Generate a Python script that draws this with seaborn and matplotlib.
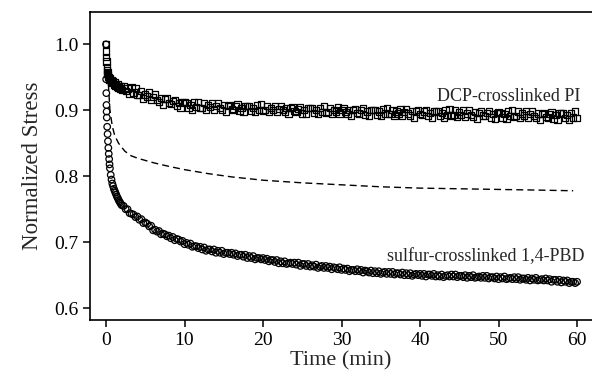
import matplotlib
matplotlib.use('Agg')
import matplotlib.pyplot as plt
import seaborn as sns

# ==================== data ====================
time_min = [
    0.0, 0.02, 0.04, 0.06, 0.08, 0.1, 0.15, 0.2, 0.25, 0.3,
    0.35, 0.4, 0.45, 0.5, 0.6, 0.7, 0.8, 0.9, 1.0, 1.1,
    1.2, 1.3, 1.4, 1.5, 1.6, 1.7, 1.8, 1.9, 2.0,
    2.25, 2.5, 2.75, 3.0, 3.25, 3.5, 3.75, 4.0,
    4.25, 4.5, 4.75, 5.0, 5.25, 5.5, 5.75, 6.0,
    6.25, 6.5, 6.75, 7.0, 7.25, 7.5, 7.75, 8.0,
    8.25, 8.5, 8.75, 9.0, 9.25, 9.5, 9.75, 10.0,
    10.25, 10.5, 10.75, 11.0, 11.25, 11.5, 11.75, 12.0,
    12.25, 12.5, 12.75, 13.0, 13.25, 13.5, 13.75, 14.0,
    14.25, 14.5, 14.75, 15.0, 15.25, 15.5, 15.75, 16.0,
    16.25, 16.5, 16.75, 17.0, 17.25, 17.5, 17.75, 18.0,
    18.25, 18.5, 18.75, 19.0, 19.25, 19.5, 19.75, 20.0,
    20.25, 20.5, 20.75, 21.0, 21.25, 21.5, 21.75, 22.0,
    22.25, 22.5, 22.75, 23.0, 23.25, 23.5, 23.75, 24.0,
    24.25, 24.5, 24.75, 25.0, 25.25, 25.5, 25.75, 26.0,
    26.25, 26.5, 26.75, 27.0, 27.25, 27.5, 27.75, 28.0,
    28.25, 28.5, 28.75, 29.0, 29.25, 29.5, 29.75, 30.0,
    30.25, 30.5, 30.75, 31.0, 31.25, 31.5, 31.75, 32.0,
    32.25, 32.5, 32.75, 33.0, 33.25, 33.5, 33.75, 34.0,
    34.25, 34.5, 34.75, 35.0, 35.25, 35.5, 35.75, 36.0,
    36.25, 36.5, 36.75, 37.0, 37.25, 37.5, 37.75, 38.0,
    38.25, 38.5, 38.75, 39.0, 39.25, 39.5, 39.75, 40.0,
    40.25, 40.5, 40.75, 41.0, 41.25, 41.5, 41.75, 42.0,
    42.25, 42.5, 42.75, 43.0, 43.25, 43.5, 43.75, 44.0,
    44.25, 44.5, 44.75, 45.0, 45.25, 45.5, 45.75, 46.0,
    46.25, 46.5, 46.75, 47.0, 47.25, 47.5, 47.75, 48.0,
    48.25, 48.5, 48.75, 49.0, 49.25, 49.5, 49.75, 50.0,
    50.25, 50.5, 50.75, 51.0, 51.25, 51.5, 51.75, 52.0,
    52.25, 52.5, 52.75, 53.0, 53.25, 53.5, 53.75, 54.0,
    54.25, 54.5, 54.75, 55.0, 55.25, 55.5, 55.75, 56.0,
    56.25, 56.5, 56.75, 57.0, 57.25, 57.5, 57.75, 58.0,
    58.25, 58.5, 58.75, 59.0, 59.25, 59.5, 59.75, 60.0,
]

# DCP-crosslinked PI (squares)
pi_stress = [
    1.000, 0.989, 0.981, 0.974, 0.966, 0.961, 0.955, 0.958, 0.951, 0.954,
    0.948, 0.951, 0.946, 0.949, 0.943, 0.946, 0.941, 0.944, 0.939, 0.942,
    0.937, 0.940, 0.935, 0.939, 0.934, 0.937, 0.933, 0.936, 0.931,
    0.937, 0.929, 0.933, 0.925, 0.935, 0.927, 0.934, 0.923,
    0.923, 0.929, 0.918, 0.924, 0.921, 0.927, 0.916, 0.920,
    0.924, 0.916, 0.913, 0.919, 0.908, 0.917, 0.918, 0.911,
    0.909, 0.914, 0.916, 0.906, 0.911, 0.903, 0.912, 0.912,
    0.911, 0.904, 0.908, 0.901, 0.912, 0.905, 0.913, 0.903,
    0.904, 0.911, 0.901, 0.908, 0.905, 0.911, 0.901, 0.906,
    0.911, 0.904, 0.901, 0.908, 0.898, 0.906, 0.908, 0.902,
    0.901, 0.906, 0.909, 0.899, 0.904, 0.897, 0.906, 0.907,
    0.906, 0.899, 0.904, 0.897, 0.908, 0.900, 0.909, 0.899,
    0.900, 0.907, 0.897, 0.904, 0.901, 0.907, 0.897, 0.902,
    0.907, 0.900, 0.897, 0.904, 0.894, 0.903, 0.905, 0.899,
    0.897, 0.902, 0.905, 0.895, 0.901, 0.894, 0.903, 0.904,
    0.903, 0.896, 0.901, 0.894, 0.904, 0.897, 0.906, 0.896,
    0.897, 0.904, 0.894, 0.901, 0.898, 0.905, 0.895, 0.900,
    0.904, 0.897, 0.894, 0.901, 0.891, 0.900, 0.902, 0.896,
    0.895, 0.900, 0.903, 0.893, 0.898, 0.891, 0.900, 0.901,
    0.900, 0.893, 0.898, 0.891, 0.902, 0.895, 0.904, 0.894,
    0.894, 0.901, 0.891, 0.898, 0.895, 0.902, 0.892, 0.897,
    0.902, 0.895, 0.892, 0.899, 0.889, 0.898, 0.900, 0.894,
    0.893, 0.898, 0.901, 0.891, 0.896, 0.889, 0.898, 0.899,
    0.898, 0.891, 0.896, 0.889, 0.900, 0.893, 0.902, 0.892,
    0.893, 0.900, 0.890, 0.897, 0.893, 0.900, 0.890, 0.895,
    0.900, 0.893, 0.890, 0.897, 0.887, 0.896, 0.898, 0.892,
    0.891, 0.896, 0.899, 0.889, 0.894, 0.887, 0.896, 0.897,
    0.896, 0.889, 0.894, 0.887, 0.898, 0.891, 0.900, 0.890,
    0.891, 0.898, 0.888, 0.895, 0.892, 0.899, 0.889, 0.894,
    0.898, 0.891, 0.888, 0.895, 0.885, 0.894, 0.896, 0.890,
    0.889, 0.894, 0.897, 0.887, 0.893, 0.886, 0.895, 0.896,
    0.895, 0.888, 0.893, 0.886, 0.896, 0.889, 0.898, 0.888,
]

# sulfur-crosslinked 1,4-PBD (circles)
pbd_stress = [
    1.000, 0.947, 0.926, 0.908, 0.898, 0.889, 0.875, 0.864, 0.853, 0.843,
    0.834, 0.826, 0.818, 0.812, 0.802, 0.795, 0.789, 0.785, 0.781, 0.778,
    0.775, 0.772, 0.769, 0.767, 0.764, 0.762, 0.760, 0.758, 0.756,
    0.755, 0.750, 0.750, 0.744, 0.743, 0.742, 0.738, 0.739,
    0.734, 0.735, 0.729, 0.730, 0.728, 0.724, 0.725, 0.718,
    0.719, 0.716, 0.717, 0.712, 0.713, 0.712, 0.709, 0.710,
    0.706, 0.708, 0.703, 0.705, 0.704, 0.701, 0.702, 0.697,
    0.699, 0.696, 0.698, 0.693, 0.694, 0.694, 0.691, 0.693,
    0.689, 0.692, 0.687, 0.689, 0.689, 0.686, 0.689, 0.684,
    0.687, 0.684, 0.687, 0.682, 0.684, 0.684, 0.682, 0.684,
    0.681, 0.683, 0.679, 0.681, 0.681, 0.678, 0.681, 0.676,
    0.679, 0.676, 0.679, 0.674, 0.676, 0.676, 0.674, 0.676,
    0.673, 0.675, 0.671, 0.673, 0.673, 0.670, 0.673, 0.668,
    0.671, 0.668, 0.671, 0.667, 0.668, 0.669, 0.667, 0.669,
    0.666, 0.669, 0.664, 0.667, 0.667, 0.664, 0.667, 0.663,
    0.665, 0.663, 0.666, 0.661, 0.663, 0.664, 0.661, 0.664,
    0.661, 0.663, 0.659, 0.662, 0.661, 0.659, 0.662, 0.658,
    0.660, 0.658, 0.660, 0.656, 0.658, 0.658, 0.656, 0.659,
    0.656, 0.658, 0.654, 0.657, 0.656, 0.654, 0.657, 0.653,
    0.656, 0.653, 0.656, 0.652, 0.654, 0.655, 0.652, 0.655,
    0.652, 0.655, 0.651, 0.653, 0.653, 0.651, 0.654, 0.650,
    0.653, 0.650, 0.653, 0.649, 0.651, 0.652, 0.650, 0.652,
    0.649, 0.652, 0.648, 0.651, 0.651, 0.649, 0.652, 0.648,
    0.650, 0.648, 0.651, 0.647, 0.649, 0.650, 0.648, 0.651,
    0.648, 0.651, 0.647, 0.649, 0.649, 0.647, 0.650, 0.646,
    0.649, 0.647, 0.650, 0.646, 0.647, 0.648, 0.646, 0.649,
    0.646, 0.649, 0.645, 0.647, 0.647, 0.645, 0.648, 0.644,
    0.647, 0.645, 0.648, 0.644, 0.645, 0.646, 0.644, 0.647,
    0.644, 0.647, 0.643, 0.645, 0.645, 0.643, 0.646, 0.642,
    0.645, 0.643, 0.646, 0.642, 0.643, 0.644, 0.642, 0.645,
    0.642, 0.644, 0.640, 0.643, 0.643, 0.640, 0.643, 0.639,
    0.642, 0.640, 0.642, 0.638, 0.640, 0.640, 0.638, 0.640,
]

# dashed curve
dash_time = [0.3, 0.5, 0.8, 1.1, 1.6, 2.4, 3.2, 4.1, 5.0, 6.2, 8.0, 10.0,
             13.0, 16.0, 20.0, 25.0, 30.0, 35.0, 40.0, 45.0, 50.0, 55.0, 59.5]
dash_stress = [0.940, 0.900, 0.876, 0.862, 0.850, 0.838, 0.831, 0.827, 0.824,
               0.820, 0.815, 0.810, 0.804, 0.799, 0.794, 0.790, 0.787, 0.784,
               0.782, 0.781, 0.780, 0.779, 0.778]

x_ticks = [0, 10, 20, 30, 40, 50, 60]
y_ticks = [0.6, 0.7, 0.8, 0.9, 1.0]
y_tick_labels = ['0.6', '0.7', '0.8', '0.9', '1.0']

# ==================== style ====================
sns.set_style('ticks')
plt.rcParams['font.family'] = ['Liberation Serif', 'DejaVu Serif']

fig = plt.figure(figsize=(5.92, 3.81), dpi=100)
ax = fig.add_axes([0.152, 0.160, 0.848, 0.8085])

sns.lineplot(x=dash_time, y=dash_stress, color='black', lw=1.0,
             linestyle=(0, (5, 3)), ax=ax)
sns.scatterplot(x=time_min, y=pi_stress, marker='s', s=20, facecolor='none',
                edgecolor='black', linewidth=0.9, ax=ax)
sns.scatterplot(x=time_min, y=pbd_stress, marker='o', s=22, facecolor='none',
                edgecolor='black', linewidth=0.9, ax=ax)

ax.text(60.4, 0.914, 'DCP-crosslinked PI', ha='right', va='baseline', fontsize=13)
ax.text(61.0, 0.672, 'sulfur-crosslinked 1,4-PBD', ha='right', va='baseline', fontsize=13)

ax.set_xlim(-2.04, 61.9)
ax.set_ylim(0.582, 1.049)
ax.set_xticks(x_ticks)
ax.set_yticks(y_ticks)
ax.set_yticklabels(y_tick_labels)
ax.set_xlabel('Time (min)', fontsize=16, labelpad=2)
ax.set_ylabel('Normalized Stress', fontsize=16.5, labelpad=8)
ax.tick_params(direction='out', length=5, width=1.1, labelsize=14, colors='black')

ax.spines['right'].set_visible(False)
for side in ['left', 'top', 'bottom']:
    ax.spines[side].set_linewidth(1.2)
    ax.spines[side].set_color('black')

fig.savefig('out.png', dpi=100)
